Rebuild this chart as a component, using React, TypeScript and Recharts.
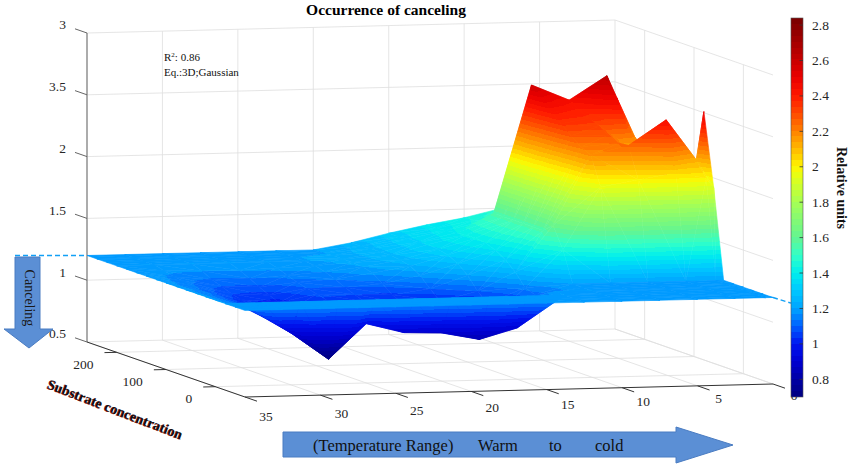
import React from 'react';
import { ComposedChart, XAxis, YAxis, Scatter } from 'recharts';

const WIDTH = 851;
const HEIGHT = 468;
const SERIF = '"Liberation Serif", "Times New Roman", serif';

// fitted surface: temperature columns, substrate rows, relative units
const temperatures = [35, 32.5, 30, 27.5, 25, 22.5, 20, 17.5, 15, 12.5, 10, 7.5, 5, 2.5, 0.5, 0];
const substrate = [260, 240, 220, 200, 180, 160, 140, 120, 100, 80, 60, 40, 20, 0, -20, -40, -60];
const relativeUnits = [
  [1.2, 1.2, 1.2, 1.2, 1.2, 1.2, 1.2, 1.25, 1.32, 1.38, 1.43, 1.5, 1.7, 1.85, 1.85, 1.8],
  [1.2, 1.2, 1.2, 1.2, 1.2, 1.2, 1.2, 1.25, 1.32, 1.38, 1.44, 1.55, 1.75, 1.9, 1.9, 1.9],
  [1.2, 1.2, 1.2, 1.2, 1.2, 1.2, 1.21, 1.26, 1.33, 1.39, 1.46, 1.7, 1.9, 2.0, 2.0, 2.0],
  [1.2, 1.2, 1.2, 1.2, 1.2, 1.2, 1.21, 1.26, 1.33, 1.4, 1.55, 2.58, 2.45, 2.64, 1.95, 1.8],
  [1.2, 1.18, 1.17, 1.17, 1.18, 1.19, 1.21, 1.26, 1.34, 1.41, 1.55, 2.5, 2.4, 2.49, 1.95, 1.9],
  [1.2, 1.16, 1.13, 1.13, 1.15, 1.17, 1.2, 1.25, 1.33, 1.41, 1.55, 2.42, 2.36, 2.29, 1.95, 1.9],
  [1.2, 1.15, 1.1, 1.09, 1.12, 1.14, 1.18, 1.23, 1.31, 1.4, 1.55, 2.35, 2.32, 2.1, 1.95, 1.9],
  [1.2, 1.14, 1.07, 1.05, 1.1, 1.1, 1.12, 1.18, 1.27, 1.37, 1.55, 2.28, 2.28, 2.05, 1.95, 1.9],
  [1.2, 1.13, 1.05, 1.02, 1.08, 1.07, 1.06, 1.1, 1.2, 1.32, 1.55, 2.22, 2.24, 2.1, 2.0, 1.95],
  [1.2, 1.13, 1.03, 0.98, 1.06, 1.04, 1.02, 1.03, 1.1, 1.25, 1.62, 2.18, 2.25, 2.45, 2.12, 2.51],
  [1.2, 1.12, 1.0, 0.93, 1.04, 1.0, 0.97, 0.97, 1.03, 1.15, 1.45, 1.95, 2.0, 2.05, 2.0, 1.92],
  [1.2, 1.12, 0.98, 0.86, 1.02, 0.96, 0.94, 0.92, 0.98, 1.12, 1.2, 1.2, 1.2, 1.2, 1.2, 1.2],
  [1.2, 1.12, 0.95, 0.78, 1.0, 0.93, 0.91, 0.87, 0.94, 1.15, 1.2, 1.2, 1.2, 1.2, 1.2, 1.2],
  [1.2, 1.11, 0.92, 0.7, 0.98, 0.9, 0.89, 0.83, 0.915, 1.2, 1.2, 1.2, 1.2, 1.2, 1.2, 1.2],
  [1.2, 1.2, 1.2, 1.2, 1.2, 1.2, 1.2, 1.2, 1.2, 1.2, 1.2, 1.2, 1.2, 1.2, 1.2, 1.2],
  [1.2, 1.2, 1.2, 1.2, 1.2, 1.2, 1.2, 1.2, 1.2, 1.2, 1.2, 1.2, 1.2, 1.2, 1.2, 1.2],
  [1.2, 1.2, 1.2, 1.2, 1.2, 1.2, 1.2, 1.2, 1.2, 1.2, 1.2, 1.2, 1.2, 1.2, 1.2, 1.2],
];

const tempTicks = [35, 30, 25, 20, 15, 10, 5, 0];
const substrateTicks = [200, 100, 0];
const zTicks = [0.5, 1, 1.5, 2, 2.5, 3];
const zTickLabels = ['0.5', '1', '1.5', '2', '3.5', '3'];
const colorbarTicks = [0.8, 1, 1.2, 1.4, 1.6, 1.8, 2, 2.2, 2.4, 2.6, 2.8];

// colour scale
const cmapValues = [0.7, 0.8, 0.9, 1.0, 1.1, 1.2, 1.3, 1.4, 1.5, 1.6, 1.8, 1.95, 2.0, 2.1, 2.2, 2.3, 2.4, 2.5, 2.6, 2.84];
const cmapColors = ['#000080', '#0000a5', '#0000d2', '#0014f0', '#005fff', '#00a5ff', '#00c8ff', '#00eeee', '#32ffc8', '#64f591',
  '#a5ff55', '#e6ff14', '#fff500', '#ffb900', '#ff8200', '#ff4b00', '#ff1900', '#eb0000', '#c80000', '#780000'];

const T_MAX = 35, T_MIN = 0;
const S_MAX = 260, S_MIN = -60;
const Z_MIN = 0.5, Z_MAX = 3;
const C_MIN = 0.7, C_MAX = 2.84;
const BANDS = 64;

// axes box in the picture (back-left-bottom corner + edge vectors)
const BOX = { ox: 87, oy: 342, ux: 528, uy: -13, vx: 158, vy: 55, wy: -309 };

function project(t: number, s: number, z: number) {
  const u = (T_MAX - t) / (T_MAX - T_MIN);
  const v = (S_MAX - s) / (S_MAX - S_MIN);
  const w = (z - Z_MIN) / (Z_MAX - Z_MIN);
  return { x: BOX.ox + BOX.ux * u + BOX.vx * v, y: BOX.oy + BOX.uy * u + BOX.vy * v + BOX.wy * w };
}

function hexRgb(h: string) {
  return [1, 3, 5].map((k) => parseInt(h.slice(k, k + 2), 16));
}

function colorAt(z: number) {
  const c = Math.min(Math.max(z, cmapValues[0]), cmapValues[cmapValues.length - 1]);
  let k = 0;
  while (k < cmapValues.length - 2 && c > cmapValues[k + 1]) k++;
  const f = (c - cmapValues[k]) / (cmapValues[k + 1] - cmapValues[k]);
  const a = hexRgb(cmapColors[k]);
  const b = hexRgb(cmapColors[k + 1]);
  const rgb = a.map((x, i) => Math.round(x + (b[i] - x) * f));
  return `rgb(${rgb[0]},${rgb[1]},${rgb[2]})`;
}

function bandColor(z: number) {
  const k = Math.min(BANDS - 1, Math.max(0, Math.floor(((z - C_MIN) / (C_MAX - C_MIN)) * BANDS)));
  return colorAt(C_MIN + ((k + 0.5) * (C_MAX - C_MIN)) / BANDS);
}

const bandStops: { offset: number; color: string }[] = [];
for (let k = 0; k < BANDS; k++) {
  const col = colorAt(C_MIN + ((k + 0.5) * (C_MAX - C_MIN)) / BANDS);
  bandStops.push({ offset: k / BANDS, color: col }, { offset: (k + 1) / BANDS, color: col });
}

type P3 = { x: number; y: number; z: number };

function shadeTriangle(p: P3[]) {
  const d1x = p[1].x - p[0].x, d1y = p[1].y - p[0].y;
  const d2x = p[2].x - p[0].x, d2y = p[2].y - p[0].y;
  const dz1 = p[1].z - p[0].z, dz2 = p[2].z - p[0].z;
  const det = d1x * d2y - d1y * d2x;
  if (Math.abs(det) < 1e-6) return null;
  const a = (dz1 * d2y - dz2 * d1y) / det;
  const b = (d1x * dz2 - d2x * dz1) / det;
  const g2 = a * a + b * b;
  if (g2 < 1e-12) return { solid: bandColor(p[0].z) };
  const k0 = (C_MIN - p[0].z) / g2;
  const k1 = (C_MAX - p[0].z) / g2;
  return { grad: { x1: p[0].x + a * k0, y1: p[0].y + b * k0, x2: p[0].x + a * k1, y2: p[0].y + b * k1 } };
}

// surface triangles, painted from the back row forward, far columns first
const surfaceTriangles: any[] = [];
for (let j = 0; j < substrate.length - 1; j++) {
  for (let i = temperatures.length - 2; i >= 0; i--) {
    const corner = (jj: number, ii: number): P3 => ({
      ...project(temperatures[ii], substrate[jj], relativeUnits[jj][ii]),
      z: relativeUnits[jj][ii],
    });
    const a = corner(j, i), b = corner(j, i + 1), c = corner(j + 1, i + 1), d = corner(j + 1, i);
    const tris = a.z + c.z <= b.z + d.z ? [[a, b, c], [a, c, d]] : [[a, b, d], [b, c, d]];
    tris.forEach((tri) => {
      const shade = shadeTriangle(tri);
      if (!shade) return;
      surfaceTriangles.push({
        id: `patch-${surfaceTriangles.length}`,
        sx: tri[0].x,
        sy: tri[0].y,
        pts: tri.map((q) => ({ x: q.x, y: q.y })),
        ...shade,
      });
    });
  }
}

// wall / floor grid, axis lines and ticks
const GRID = '#dedede';
const AXIS = '#333333';
const gridSegments: any[] = [];
const seg = (p: { x: number; y: number }, q: { x: number; y: number }, stroke: string, width: number) =>
  gridSegments.push({ sx: p.x, sy: p.y, ex: q.x, ey: q.y, stroke, width });

tempTicks.forEach((t) => {
  seg(project(t, S_MAX, Z_MIN), project(t, S_MAX, Z_MAX), GRID, 0.8);
  seg(project(t, S_MAX, Z_MIN), project(t, S_MIN, Z_MIN), GRID, 0.8);
});
substrateTicks.forEach((s) => {
  seg(project(T_MIN, s, Z_MIN), project(T_MIN, s, Z_MAX), GRID, 0.8);
  seg(project(T_MAX, s, Z_MIN), project(T_MIN, s, Z_MIN), GRID, 0.8);
});
zTicks.forEach((z) => {
  seg(project(T_MAX, S_MAX, z), project(T_MIN, S_MAX, z), GRID, 0.8);
  seg(project(T_MIN, S_MAX, z), project(T_MIN, S_MIN, z), GRID, 0.8);
});
seg(project(T_MAX, S_MAX, Z_MIN), project(T_MAX, S_MAX, Z_MAX), '#666666', 1);
seg(project(T_MAX, S_MAX, Z_MIN), project(T_MAX, S_MIN, Z_MIN), AXIS, 1);
seg(project(T_MAX, S_MIN, Z_MIN), project(T_MIN, S_MIN, Z_MIN), AXIS, 1);

const S_TICK_OUT = S_MAX + 0.076 * (S_MAX - S_MIN);
const S_TICK_IN = S_MIN - 0.076 * (S_MAX - S_MIN);
const T_TICK_OUT = T_MAX + 0.023 * (T_MAX - T_MIN);

zTicks.forEach((z) => seg(project(T_MAX, S_MAX, z), project(T_MAX, S_TICK_OUT, z), '#666666', 1));
substrateTicks.forEach((s) => seg(project(T_MAX, s, Z_MIN), project(T_TICK_OUT, s, Z_MIN), AXIS, 1));
tempTicks.forEach((t) => seg(project(t, S_MIN, Z_MIN), project(t, S_TICK_IN, Z_MIN), AXIS, 1));

// tick labels
const tickLabels: any[] = [];
zTicks.forEach((z, k) => {
  const p = project(T_MAX, S_TICK_OUT, z);
  tickLabels.push({ sx: p.x, sy: p.y, text: zTickLabels[k], dx: -9, dy: -4, anchor: 'end' });
});
substrateTicks.forEach((s) => {
  const p = project(T_TICK_OUT, s, Z_MIN);
  tickLabels.push({ sx: p.x, sy: p.y, text: String(s), dx: -11, dy: 12, anchor: 'end' });
});
tempTicks.forEach((t) => {
  const p = project(t, S_TICK_IN, Z_MIN);
  const u = (T_MAX - t) / (T_MAX - T_MIN);
  tickLabels.push({ sx: p.x, sy: p.y, text: String(t), dx: 9, dy: 15 - 8 * u, anchor: 'middle' });
});

const SegmentShape = (props: any) => {
  const { cx, cy, payload } = props;
  if (cx == null || cy == null) return null;
  return (
    <line x1={cx} y1={cy} x2={cx + payload.ex - payload.sx} y2={cy + payload.ey - payload.sy}
      stroke={payload.stroke} strokeWidth={payload.width} />
  );
};

const SurfacePatch = (props: any) => {
  const { cx, cy, payload } = props;
  if (cx == null || cy == null) return null;
  const dx = cx - payload.sx;
  const dy = cy - payload.sy;
  const points = payload.pts.map((q: any) => `${(q.x + dx).toFixed(2)},${(q.y + dy).toFixed(2)}`).join(' ');
  if (payload.solid) {
    return <polygon points={points} fill={payload.solid} stroke={payload.solid} strokeWidth={0.6} strokeLinejoin="round" />;
  }
  const g = payload.grad;
  const url = `url(#${payload.id})`;
  return (
    <g>
      <defs>
        <linearGradient id={payload.id} href="#cmap-bands" gradientUnits="userSpaceOnUse"
          x1={g.x1 + dx} y1={g.y1 + dy} x2={g.x2 + dx} y2={g.y2 + dy} />
      </defs>
      <polygon points={points} fill={url} stroke={url} strokeWidth={0.6} strokeLinejoin="round" />
    </g>
  );
};

const TickText = (props: any) => {
  const { cx, cy, payload } = props;
  if (cx == null || cy == null) return null;
  return (
    <text x={cx + payload.dx} y={cy + payload.dy} textAnchor={payload.anchor} dominantBaseline="central"
      fontFamily={SERIF} fontSize={13.5} fill="#262626">
      {payload.text}
    </text>
  );
};

const cbarY = (v: number) => 397 - ((v - C_MIN) / (C_MAX - C_MIN)) * 379;

export default function App() {
  const plane = project(T_MAX, S_MAX, 1.2);
  const planeRight = project(T_MIN, S_MIN, 1.2);
  return (
    <div style={{ position: 'absolute', left: 0, top: 0, width: WIDTH, height: HEIGHT, background: '#fff' }}>
      <ComposedChart width={WIDTH} height={HEIGHT} margin={{ top: 0, right: 0, bottom: 0, left: 0 }}>
        <defs>
          <linearGradient id="cmap-bands" x1="0" y1="0" x2="1" y2="0">
            {bandStops.map((s, k) => (
              <stop key={k} offset={s.offset} stopColor={s.color} />
            ))}
          </linearGradient>
        </defs>
        <XAxis type="number" dataKey="sx" domain={[0, WIDTH]} hide allowDataOverflow />
        <YAxis type="number" dataKey="sy" domain={[0, HEIGHT]} reversed hide allowDataOverflow />
        <Scatter data={gridSegments} shape={SegmentShape} isAnimationActive={false} />
        <Scatter data={surfaceTriangles} shape={SurfacePatch} isAnimationActive={false} />
        <Scatter data={tickLabels} shape={TickText} isAnimationActive={false} />
      </ComposedChart>

      <svg width={WIDTH} height={HEIGHT} style={{ position: 'absolute', left: 0, top: 0, pointerEvents: 'none' }}
        fontFamily={SERIF}>
        <defs>
          <linearGradient id="cbar" x1="0" y1="1" x2="0" y2="0">
            {bandStops.map((s, k) => (
              <stop key={k} offset={s.offset} stopColor={s.color} />
            ))}
          </linearGradient>
        </defs>

        <text x={386} y={15} textAnchor="middle" fontSize={15.5} fontWeight="bold" fill="#000">
          Occurrence of canceling
        </text>
        <text x={164} y={61} fontSize={11} fill="#111">
          R<tspan fontSize={7} dy={-4}>2</tspan>
          <tspan dy={4}>: 0.86</tspan>
        </text>
        <text x={164} y={76} fontSize={11} fill="#111">Eq.:3D;Gaussian</text>

        {/* dashed guide lines at the base level */}
        <line x1={15} y1={plane.y} x2={plane.x} y2={plane.y} stroke="#12a0f5" strokeWidth={1.5} strokeDasharray="5 3" />
        <line x1={planeRight.x} y1={planeRight.y} x2={791} y2={cbarY(1.23)} stroke="#12a0f5" strokeWidth={1.5} strokeDasharray="5 3" />

        {/* canceling arrow */}
        <polygon points="15,257 40,257 40,329 53,329 29,348 4,329 15,329" fill="#5b8fd5" stroke="#4a7cc2" strokeWidth={1} />
        <text x={29} y={298} fontSize={14} fill="#1a1a1a" textAnchor="middle" dominantBaseline="central" transform="rotate(90 29 298)">
          Canceling
        </text>

        {/* temperature arrow */}
        <polygon points="283,432 676,432 676,427 733,445 676,463 676,457 283,457" fill="#5b8fd5" stroke="#4a7cc2" strokeWidth={1} />
        <text x={313} y={451} fontSize={16.5} fill="#111">(Temperature Range)</text>
        <text x={478} y={451} fontSize={16.5} fill="#111">Warm</text>
        <text x={549} y={451} fontSize={16.5} fill="#111">to</text>
        <text x={595} y={451} fontSize={16.5} fill="#111">cold</text>

        {/* substrate axis title */}
        <g transform="rotate(21 115 410)">
          <text x={114.4} y={414.5} textAnchor="middle" fontSize={14} fontWeight="bold" fill="#a01010">Substrate concentration</text>
          <text x={115} y={414} textAnchor="middle" fontSize={14} fontWeight="bold" fill="#111">Substrate concentration</text>
        </g>

        {/* colour bar */}
        <rect x={791} y={18} width={12} height={379} fill="url(#cbar)" stroke="#555" strokeWidth={0.6} />
        {colorbarTicks.map((v) => (
          <g key={v}>
            <line x1={799.5} x2={803} y1={cbarY(v)} y2={cbarY(v)} stroke="#333" strokeWidth={0.8} />
            <text x={812} y={cbarY(v)} dominantBaseline="central" fontSize={13.5} fill="#262626">
              {String(v)}
            </text>
          </g>
        ))}
        <text x={841} y={188} textAnchor="middle" dominantBaseline="central" fontSize={14} fontWeight="bold" fill="#111"
          transform="rotate(90 841 188)">
          Relative units
        </text>
      </svg>
    </div>
  );
}
